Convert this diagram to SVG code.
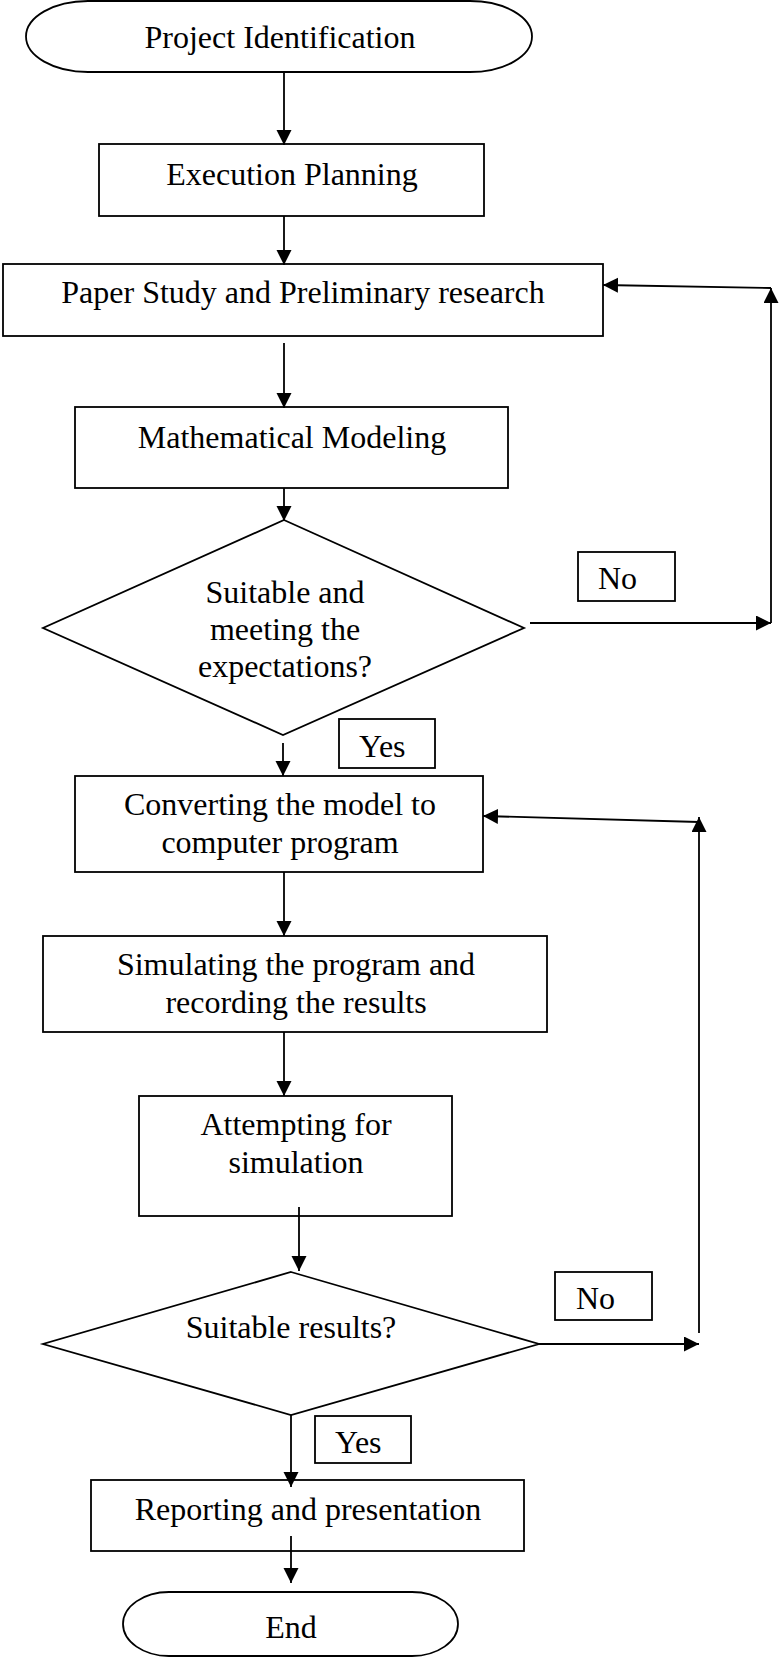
<svg xmlns="http://www.w3.org/2000/svg" width="780" height="1658" viewBox="0 0 780 1658">
<defs>
<marker id="ah" markerUnits="userSpaceOnUse" markerWidth="16" markerHeight="16" refX="15" refY="7.5" orient="auto">
<path d="M0,0 L15,7.5 L0,15 z" fill="#000"/>
</marker>
<style>
.s{fill:#fff;stroke:#000;stroke-width:1.8}
.t{font-family:"Liberation Serif","Times New Roman",serif;font-size:32px;fill:#000;text-anchor:middle}
.l{font-family:"Liberation Serif","Times New Roman",serif;font-size:32px;fill:#000}
.c{fill:none;stroke:#000;stroke-width:1.8;marker-end:url(#ah)}
.p{fill:none;stroke:#000;stroke-width:1.8}
</style>
</defs>
<rect width="780" height="1658" fill="#fff"/>
<g id="start"><rect class="s" x="26" y="1" width="506" height="71" rx="62" ry="35.5"/><text class="t" x="280" y="48">Project Identification</text></g>
<g id="execution"><rect class="s" x="99" y="144" width="385" height="72"/><text class="t" x="292" y="185">Execution Planning</text></g>
<g id="paper"><rect class="s" x="3" y="264" width="600" height="72"/><text class="t" x="303" y="303">Paper Study and Preliminary research</text></g>
<g id="math"><rect class="s" x="75" y="407" width="433" height="81"/><text class="t" x="292" y="448">Mathematical Modeling</text></g>
<g id="decision1"><polygon class="s" points="284,520 524,628 283,735 43,628"/><text class="t" x="285" y="603">Suitable and</text><text class="t" x="285" y="640">meeting the</text><text class="t" x="285" y="677">expectations?</text></g>
<g id="no1"><rect class="s" x="578" y="552" width="97" height="49"/><text class="l" x="598" y="589">No</text></g>
<g id="yes1"><rect class="s" x="339" y="719" width="96" height="49"/><text class="l" x="359" y="757">Yes</text></g>
<g id="converting"><rect class="s" x="75" y="776" width="408" height="96"/><text class="t" x="280" y="815">Converting the model to</text><text class="t" x="280" y="853">computer program</text></g>
<g id="simulating"><rect class="s" x="43" y="936" width="504" height="96"/><text class="t" x="296" y="975">Simulating the program and</text><text class="t" x="296" y="1013">recording the results</text></g>
<g id="attempting"><rect class="s" x="139" y="1096" width="313" height="120"/><text class="t" x="296" y="1135">Attempting for</text><text class="t" x="296" y="1173">simulation</text></g>
<g id="decision2"><polygon class="s" points="291,1272 539,1344 291,1415 43,1344"/><text class="t" x="291" y="1338">Suitable results?</text></g>
<g id="no2"><rect class="s" x="555" y="1272" width="97" height="48"/><text class="l" x="576" y="1309">No</text></g>
<g id="yes2"><rect class="s" x="315" y="1416" width="96" height="47"/><text class="l" x="335" y="1453">Yes</text></g>
<g id="reporting"><rect class="s" x="91" y="1480" width="433" height="71"/><text class="t" x="308" y="1520">Reporting and presentation</text></g>
<g id="end"><rect class="s" x="123" y="1592" width="335" height="64" rx="46" ry="32"/><text class="t" x="291" y="1638">End</text></g>
<g id="connectors">
<line class="c" x1="284" y1="72" x2="284" y2="145"/>
<line class="c" x1="284" y1="216" x2="284" y2="265"/>
<line class="c" x1="284" y1="343" x2="284" y2="408"/>
<line class="c" x1="284" y1="488" x2="284" y2="521"/>
<line class="c" x1="530" y1="623" x2="771" y2="623"/>
<line class="c" x1="771" y1="623" x2="771" y2="288"/>
<line class="c" x1="771" y1="288" x2="603" y2="285"/>
<line class="c" x1="283" y1="743" x2="283" y2="776"/>
<line class="c" x1="284" y1="872" x2="284" y2="936"/>
<line class="c" x1="284" y1="1032" x2="284" y2="1096"/>
<line class="c" x1="299" y1="1207" x2="299" y2="1271"/>
<line class="c" x1="539" y1="1344" x2="699" y2="1344"/>
<line class="c" x1="699" y1="1333" x2="699" y2="817"/>
<line class="c" x1="699" y1="822" x2="483" y2="816"/>
<line class="c" x1="291" y1="1415" x2="291" y2="1487"/>
<line class="c" x1="291" y1="1536" x2="291" y2="1583"/>
</g>
</svg>
